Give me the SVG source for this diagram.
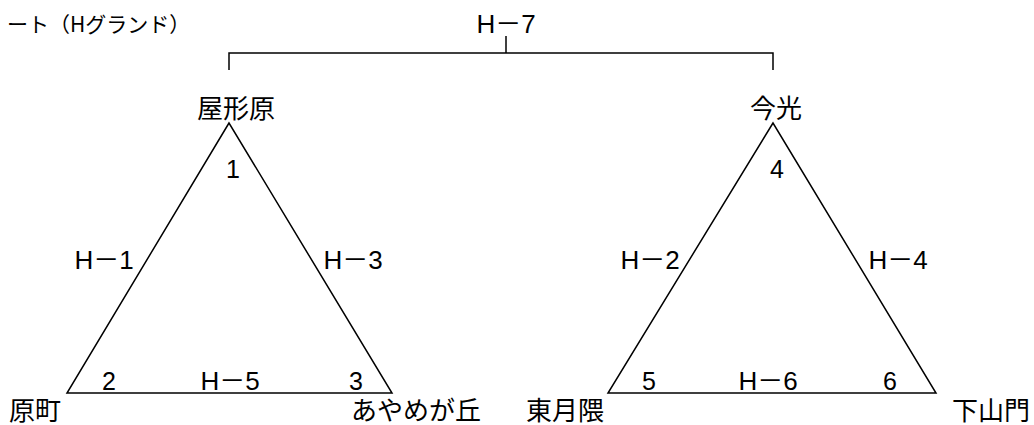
<svg xmlns="http://www.w3.org/2000/svg" width="1034" height="425" viewBox="0 0 1034 425">
<style>
text{font-family:"Noto Sans CJK JP","Noto Sans",sans-serif;fill:#000;}
.lbl{font-size:26px;}
.hl{font-family:"Liberation Sans","Noto Sans CJK JP",sans-serif;font-size:26px;text-anchor:middle;}
.num{font-family:"Liberation Sans","Noto Sans CJK JP",sans-serif;font-size:25px;text-anchor:middle;}
.t{font-size:21px;}
.ln{fill:none;stroke:#000;stroke-width:1.5;}
</style>
<rect width="1034" height="425" fill="#fff"/>
<text class="t" x="7" y="32">ート（Hグランド）</text>
<g id="connectors">
  <polyline class="ln" points="229,70 229,53 773,53 773,70"/>
  <line class="ln" x1="506" y1="36" x2="506" y2="53"/>
  <polygon class="ln" points="229,123 67,393 392,393"/>
  <polygon class="ln" points="773,123 608,393 936,393"/>
  <text class="hl" x="506" y="33">H－7</text>
  <text class="hl" x="104" y="269">H－1</text>
  <text class="hl" x="353" y="269">H－3</text>
  <text class="hl" x="650" y="269">H－2</text>
  <text class="hl" x="898" y="269">H－4</text>
  <text class="hl" x="230" y="390">H－5</text>
  <text class="hl" x="768" y="390">H－6</text>
</g>
<g id="n1"><text class="lbl" x="197" y="118">屋形原</text><text class="num" x="233" y="178">1</text></g>
<g id="n4"><text class="lbl" x="750" y="118">今光</text><text class="num" x="777" y="178">4</text></g>
<g id="n2"><text class="lbl" x="9" y="420">原町</text><text class="num" x="109" y="390">2</text></g>
<g id="n3"><text class="lbl" x="351" y="420">あやめが丘</text><text class="num" x="356" y="390">3</text></g>
<g id="n5"><text class="lbl" x="526" y="420">東月隈</text><text class="num" x="649" y="390">5</text></g>
<g id="n6"><text class="lbl" x="952" y="420">下山門</text><text class="num" x="890" y="390">6</text></g>
</svg>
